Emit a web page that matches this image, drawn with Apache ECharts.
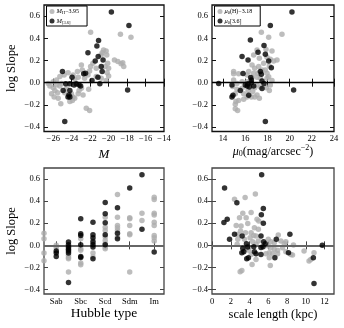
<!DOCTYPE html>
<html><head><meta charset="utf-8">
<script src="https://cdn.jsdelivr.net/npm/echarts@6/dist/echarts.min.js"></script>
<style>html,body{margin:0;padding:0;background:#fff}#c{width:344px;height:328px}</style>
</head><body><div id="c"></div>
<script>
// ---------- data ----------
const magGray = [[-21.95,0.455],[-18.72,0.437],[-17.58,0.41],[-20.55,0.295],[-20.7,0.27],[-20.27,0.285],[-20.8,0.25],[-20.2,0.25],[-19.37,0.205],[-19.0,0.19],[-18.47,0.18],[-18.65,0.17],[-18.36,0.145],[-20.1,0.175],[-20.4,0.145],[-20.0,0.13],[-20.16,0.09],[-20.0,0.06],[-21.7,0.175],[-21.95,0.145],[-21.34,0.13],[-22.06,0.105],[-22.24,0.07],[-22.95,0.16],[-22.85,0.115],[-23.38,0.1],[-23.85,0.07],[-24.39,0.09],[-24.82,0.07],[-25.28,0.055],[-23.3,0.05],[-23.67,0.03],[-22.6,0.04],[-21.34,0.055],[-20.8,0.04],[-20.27,0.02],[-26.0,0.008],[-25.64,0.023],[-26.54,-0.007],[-26.36,-0.03],[-26.0,-0.045],[-25.64,-0.02],[-25.28,-0.03],[-25.1,-0.007],[-25.82,-0.07],[-25.53,-0.09],[-26.18,-0.1],[-25.9,-0.13],[-25.46,-0.14],[-25.18,-0.19],[-24.75,-0.09],[-24.57,-0.05],[-24.03,-0.1],[-23.85,-0.13],[-23.67,-0.14],[-23.92,-0.16],[-24.2,-0.17],[-23.3,-0.1],[-22.77,-0.11],[-22.95,-0.05],[-22.16,-0.06],[-22.42,-0.23],[-22.06,-0.25],[-23.2,-0.07]];
const magBlack = [[-19.7,0.636],[-17.8,0.515],[-21.09,0.38],[-21.27,0.33],[-22.24,0.27],[-21.13,0.235],[-21.45,0.195],[-20.6,0.205],[-20.8,0.145],[-20.7,0.1],[-21.16,0.05],[-20.95,-0.01],[-21.8,0.02],[-25.0,0.1],[-22.7,0.08],[-22.5,0.085],[-23.96,0.05],[-24.93,-0.07],[-24.64,-0.01],[-24.2,-0.01],[-23.74,-0.02],[-23.5,-0.01],[-23.2,-0.02],[-23.03,-0.03],[-24.2,-0.07],[-24.3,-0.11],[-24.2,-0.13],[-24.4,-0.13],[-24.75,-0.35],[-17.94,-0.065]];

const muGray = [[17.45,0.455],[19.31,0.437],[18.11,0.41],[17.06,0.295],[17.87,0.3],[18.41,0.285],[16.76,0.25],[17.27,0.22],[17.96,0.23],[18.26,0.21],[18.56,0.195],[18.86,0.205],[17.66,0.175],[18.17,0.15],[16.61,0.16],[16.85,0.13],[17.21,0.145],[17.51,0.115],[17.81,0.115],[17.96,0.085],[17.15,0.085],[16.76,0.085],[16.31,0.1],[14.95,0.1],[14.95,0.08],[15.4,0.08],[16.16,0.07],[16.61,0.05],[17.06,0.05],[17.36,0.04],[17.96,0.04],[18.41,0.02],[18.11,0.053],[15.25,-0.007],[15.71,0.008],[16.16,0.008],[17.06,-0.02],[17.36,-0.04],[16.85,-0.045],[17.9,-0.045],[18.26,-0.02],[18.17,-0.07],[15.71,-0.05],[15.25,-0.06],[15.1,-0.1],[15.86,-0.1],[16.25,-0.07],[16.67,-0.08],[17.06,-0.11],[17.27,-0.14],[16.85,-0.13],[16.55,-0.13],[16.16,-0.13],[15.86,-0.15],[15.4,-0.16],[15.16,-0.17],[15.1,-0.195],[15.1,-0.235],[15.31,-0.25],[14.86,-0.035],[14.95,0.023]];
const muBlack = [[20.21,0.636],[18.26,0.515],[16.46,0.385],[17.69,0.334],[15.71,0.235],[16.25,0.205],[17.15,0.274],[17.81,0.256],[18.11,0.195],[18.35,0.135],[17.36,0.1],[17.45,0.077],[15.8,0.083],[16.49,0.047],[16.55,0.023],[17.51,0.014],[17.69,-0.007],[16.55,-0.001],[16.25,-0.01],[16.0,-0.02],[16.16,-0.03],[16.37,-0.04],[16.76,-0.03],[15.55,-0.07],[14.8,-0.02],[13.6,-0.007],[14.89,-0.113],[14.8,-0.128],[16.31,-0.113],[17.51,-0.053],[20.36,-0.065],[17.81,-0.35]];

// Hubble type as numeric T-type (Sab=2, Sbc=4, Scd=6, Sdm=8, Im=10)
const typeGray = [[1,0.11],[1,0.06],[1,-0.07],[1,-0.14],[2,0.0],[2,-0.02],[3,-0.02],[3,-0.09],[3,-0.11],[3,-0.12],[3,-0.24],[4,0.06],[4,-0.03],[4,-0.045],[4,-0.16],[4,-0.175],[5,0.045],[5,-0.07],[5,-0.105],[6,0.255],[6,0.165],[6,0.135],[6,0.075],[6,0.045],[6,0.015],[6,-0.015],[6,-0.03],[7,0.46],[7,0.255],[7,0.18],[7,0.16],[7,0.135],[7,0.075],[8,0.25],[8,0.24],[8,0.18],[8,0.105],[8,0.095],[8,-0.24],[9,0.29],[9,0.225],[10,0.435],[10,0.415],[10,0.29],[10,0.275],[10,0.21],[10,0.18],[10,0.09],[10,0.07],[10,0.04]];
const typeBlack = [[2,-0.05],[2,-0.07],[2,-0.1],[3,0.03],[3,0.005],[3,-0.015],[3,-0.036],[3,-0.05],[3,-0.07],[3,-0.337],[4,0.24],[4,0.105],[4,0.09],[4,0.005],[4,-0.1],[4,-0.11],[5,0.21],[5,0.095],[5,0.07],[5,0.03],[5,0.005],[5,-0.015],[5,-0.12],[6,0.387],[6,0.285],[6,0.204],[6,0.095],[6,0.005],[7,0.34],[7,0.11],[7,0.06],[8,0.52],[9,0.64],[9,0.145],[10,-0.06]];

const scaleGray = [[2.4,0.418],[3.53,0.433],[4.62,0.464],[2.93,0.25],[3.28,0.29],[3.64,0.25],[4.17,0.297],[2.58,0.18],[3.1,0.175],[3.81,0.197],[4.8,0.236],[4.98,0.22],[4.52,0.16],[4.94,0.145],[2.75,0.1],[3.04,0.13],[3.57,0.115],[4.17,0.115],[4.45,0.09],[4.06,0.07],[4.69,0.085],[3.46,0.055],[2.75,0.055],[4.94,0.04],[6.0,0.055],[6.28,0.033],[6.64,0.024],[7.06,0.094],[7.34,0.04],[7.7,0.015],[7.87,0.033],[8.68,0.003],[6.0,-0.006],[6.28,-0.021],[6.64,-0.036],[6.99,-0.045],[7.52,-0.021],[7.87,-0.058],[8.4,-0.082],[6.1,-0.067],[6.46,-0.076],[5.75,-0.076],[6.1,-0.112],[6.99,-0.076],[6.21,-0.182],[4.27,-0.173],[4.69,-0.127],[4.17,-0.082],[3.92,-0.045],[3.64,-0.03],[3.0,-0.239],[3.18,-0.227],[8.58,-0.088],[9.81,-0.052],[10.34,-0.142],[10.52,-0.127],[10.87,-0.067],[4.69,0.009],[4.34,0.033],[2.68,0.009]];
const scaleBlack = [[1.34,0.518],[1.62,0.236],[1.27,0.206],[2.65,0.385],[1.87,0.055],[2.4,0.1],[3.21,0.085],[5.29,0.64],[5.47,0.333],[5.26,0.276],[5.47,0.2],[5.22,0.085],[5.5,0.033],[5.68,0.015],[5.44,-0.012],[5.22,-0.02],[3.67,0.015],[3.81,-0.015],[3.28,-0.027],[3.39,-0.058],[3.18,-0.067],[3.7,-0.12],[3.88,-0.112],[4.45,-0.012],[4.52,-0.058],[4.69,-0.076],[5.22,-0.082],[6.85,0.055],[6.7,-0.112],[8.3,0.1],[8.15,-0.067],[10.8,-0.112],[10.87,-0.345],[11.75,0.0]];

// tick labels
const yTicks = [-0.4,-0.2,0,0.2,0.4,0.6];
const magTicks = [-26,-24,-22,-20,-18,-16,-14];
const muTicks = [14,16,18,20,22,24];
const typeTicks = [2,4,6,8,10];
const typeLabels = ['Sab','Sbc','Scd','Sdm','Im'];
const scaleTicks = [0,2,4,6,8,10,12];

// ---------- chart ----------
const FONT = '"Liberation Serif","DejaVu Serif",serif';
const GRAY = '#adadad';
const fmtY = v => { const r = Math.round(v*10)/10; return (r < 0 ? '\u2212' : '') + Math.abs(r).toFixed(1); };
const fmtInt = v => (v < 0 ? '\u2212' : '') + Math.abs(Math.round(v));
const fmtType = v => { const i = typeTicks.indexOf(Math.round(v)); return i >= 0 ? typeLabels[i] : ''; };

const panels = [
  {grid:{left:44, top:5, width:120, height:126.5}, xr:[-27,-14], xt:magTicks, xf:fmtInt, frame:'#111', zero:'#000', zw:1.4,
   name:'M', nameGap:17, nameStyle:{fontSize:13, fontStyle:'italic'}, yname:true},
  {grid:{left:212, top:5, width:122, height:126.5}, xr:[13,24], xt:muTicks, xf:fmtInt, frame:'#111', zero:'#000', zw:1.4,
   name:'{i|\u03bc}{s|0}(mag/arcsec{p|\u22122})', nameGap:7, nameStyle:{fontSize:12}, yname:false},
  {grid:{left:44, top:168, width:120, height:126}, xr:[1,10.8], xt:typeTicks, xf:fmtType, frame:'#444', zero:'#666', zw:2,
   name:'Hubble type', nameGap:10, nameStyle:{fontSize:13.5}, yname:true},
  {grid:{left:212, top:168, width:122, height:126}, xr:[0,13], xt:scaleTicks, xf:fmtInt, frame:'#444', zero:'#666', zw:2,
   name:'scale length (kpc)', nameGap:14, nameStyle:{fontSize:12.5}, yname:false}
];
const seriesData = [[magGray, magBlack],[muGray, muBlack],[typeGray, typeBlack],[scaleGray, scaleBlack]];
const seriesNames = [['mH','m36'],['muH','mu36'],['tg','tb'],['sg','sb']];

const grids = [], xAxes = [], yAxes = [], series = [];
const Y_MIN = -0.44, Y_MAX = 0.7;
panels.forEach((p, i) => {
  grids.push(Object.assign({show:true, borderColor:p.frame, borderWidth:1.3, backgroundColor:'transparent'}, p.grid));
  const tick = {inside:true, length:4, lineStyle:{color:p.frame, width:1}};
  xAxes.push({type:'value', gridIndex:i, position:'bottom', min:p.xr[0], max:p.xr[1],
    axisLine:{show:false}, splitLine:{show:false},
    axisTick:Object.assign({customValues:p.xt}, tick),
    axisLabel:{customValues:p.xt, formatter:p.xf, fontFamily:FONT, fontSize:8.5, color:'#000', margin:3},
    name:p.name, nameLocation:'middle', nameGap:p.nameGap,
    nameTextStyle:Object.assign({fontFamily:FONT, color:'#000',
      rich:{i:{fontSize:12, fontStyle:'italic', fontFamily:FONT}, s:{fontSize:8, padding:[5,0,0,0], fontFamily:FONT}, p:{fontSize:8, padding:[0,0,6,0], fontFamily:FONT}}}, p.nameStyle)
  });
  yAxes.push({type:'value', gridIndex:i, position:'left', min:Y_MIN, max:Y_MAX,
    axisLine:{show:false}, splitLine:{show:false},
    axisTick:Object.assign({customValues:yTicks}, tick),
    axisLabel:{customValues:yTicks, formatter:fmtY, fontFamily:FONT, fontSize:8.5, color:'#000', margin:4},
    name:p.yname ? 'log Slope' : '', nameLocation:'middle', nameGap:26, nameRotate:90,
    nameTextStyle:{fontFamily:FONT, fontSize:12.5, color:'#000'}
  });
  series.push({type:'scatter', name:seriesNames[i][0], xAxisIndex:i, yAxisIndex:i, data:seriesData[i][0],
    symbol:'circle', symbolSize:5.5, itemStyle:{color:GRAY}, z:2, silent:true,
    markLine:{silent:true, symbol:'none', z:4, label:{show:false}, lineStyle:{color:p.zero, width:p.zw, type:'solid'},
      data:[{yAxis:0}]}});
  series.push({type:'scatter', name:seriesNames[i][1], xAxisIndex:i, yAxisIndex:i, data:seriesData[i][1],
    symbol:'circle', symbolSize:5.5, itemStyle:{color:'#000'}, z:6, silent:true});
});
// mirrored ticks on top/right
panels.forEach((p, i) => {
  const tick = {inside:true, length:4, lineStyle:{color:p.frame, width:1}};
  xAxes.push({type:'value', gridIndex:i, position:'top', min:p.xr[0], max:p.xr[1], axisLine:{show:false}, splitLine:{show:false},
    axisTick:Object.assign({customValues:p.xt}, tick), axisLabel:{show:false}});
  yAxes.push({type:'value', gridIndex:i, position:'right', min:Y_MIN, max:Y_MAX, axisLine:{show:false}, splitLine:{show:false},
    axisTick:Object.assign({customValues:yTicks}, tick), axisLabel:{show:false}});
});

const legendRich = {
  a:{fontSize:6.5, fontStyle:'italic', fontFamily:FONT, color:'#000'},
  s:{fontSize:4.5, fontFamily:FONT, padding:[3,0,0,0], color:'#000'},
  n:{fontSize:6, fontFamily:FONT, color:'#000'}
};
const legendLabels = {
  mH:'{a|M}{s|H}{n|\u22123.95}', m36:'{a|M}{s|[3.6]}',
  muH:'{a|\u03bc}{s|0}{n|(H)\u22123.18}', mu36:'{a|\u03bc}{s|0}{n|[3.6]}'
};
function legendAt(left, names) {
  return {left:left, top:6, orient:'vertical', data:names, selectedMode:false,
    formatter:n => legendLabels[n], icon:'circle', itemWidth:5, itemHeight:5, itemGap:2,
    padding:[2,8,1,3], borderColor:'#000', borderWidth:1, backgroundColor:'#fff',
    textStyle:{fontFamily:FONT, fontSize:6, padding:[0,0,0,-3], rich:legendRich}};
}

const chart = echarts.init(document.getElementById('c'), null, {renderer:'canvas'});
chart.setOption({
  animation:false,
  backgroundColor:'#fff',
  grid:grids, xAxis:xAxes, yAxis:yAxes, series:series,
  legend:[legendAt(46.5, ['mH','m36']), legendAt(214.5, ['muH','mu36'])]
});
</script></body></html>
